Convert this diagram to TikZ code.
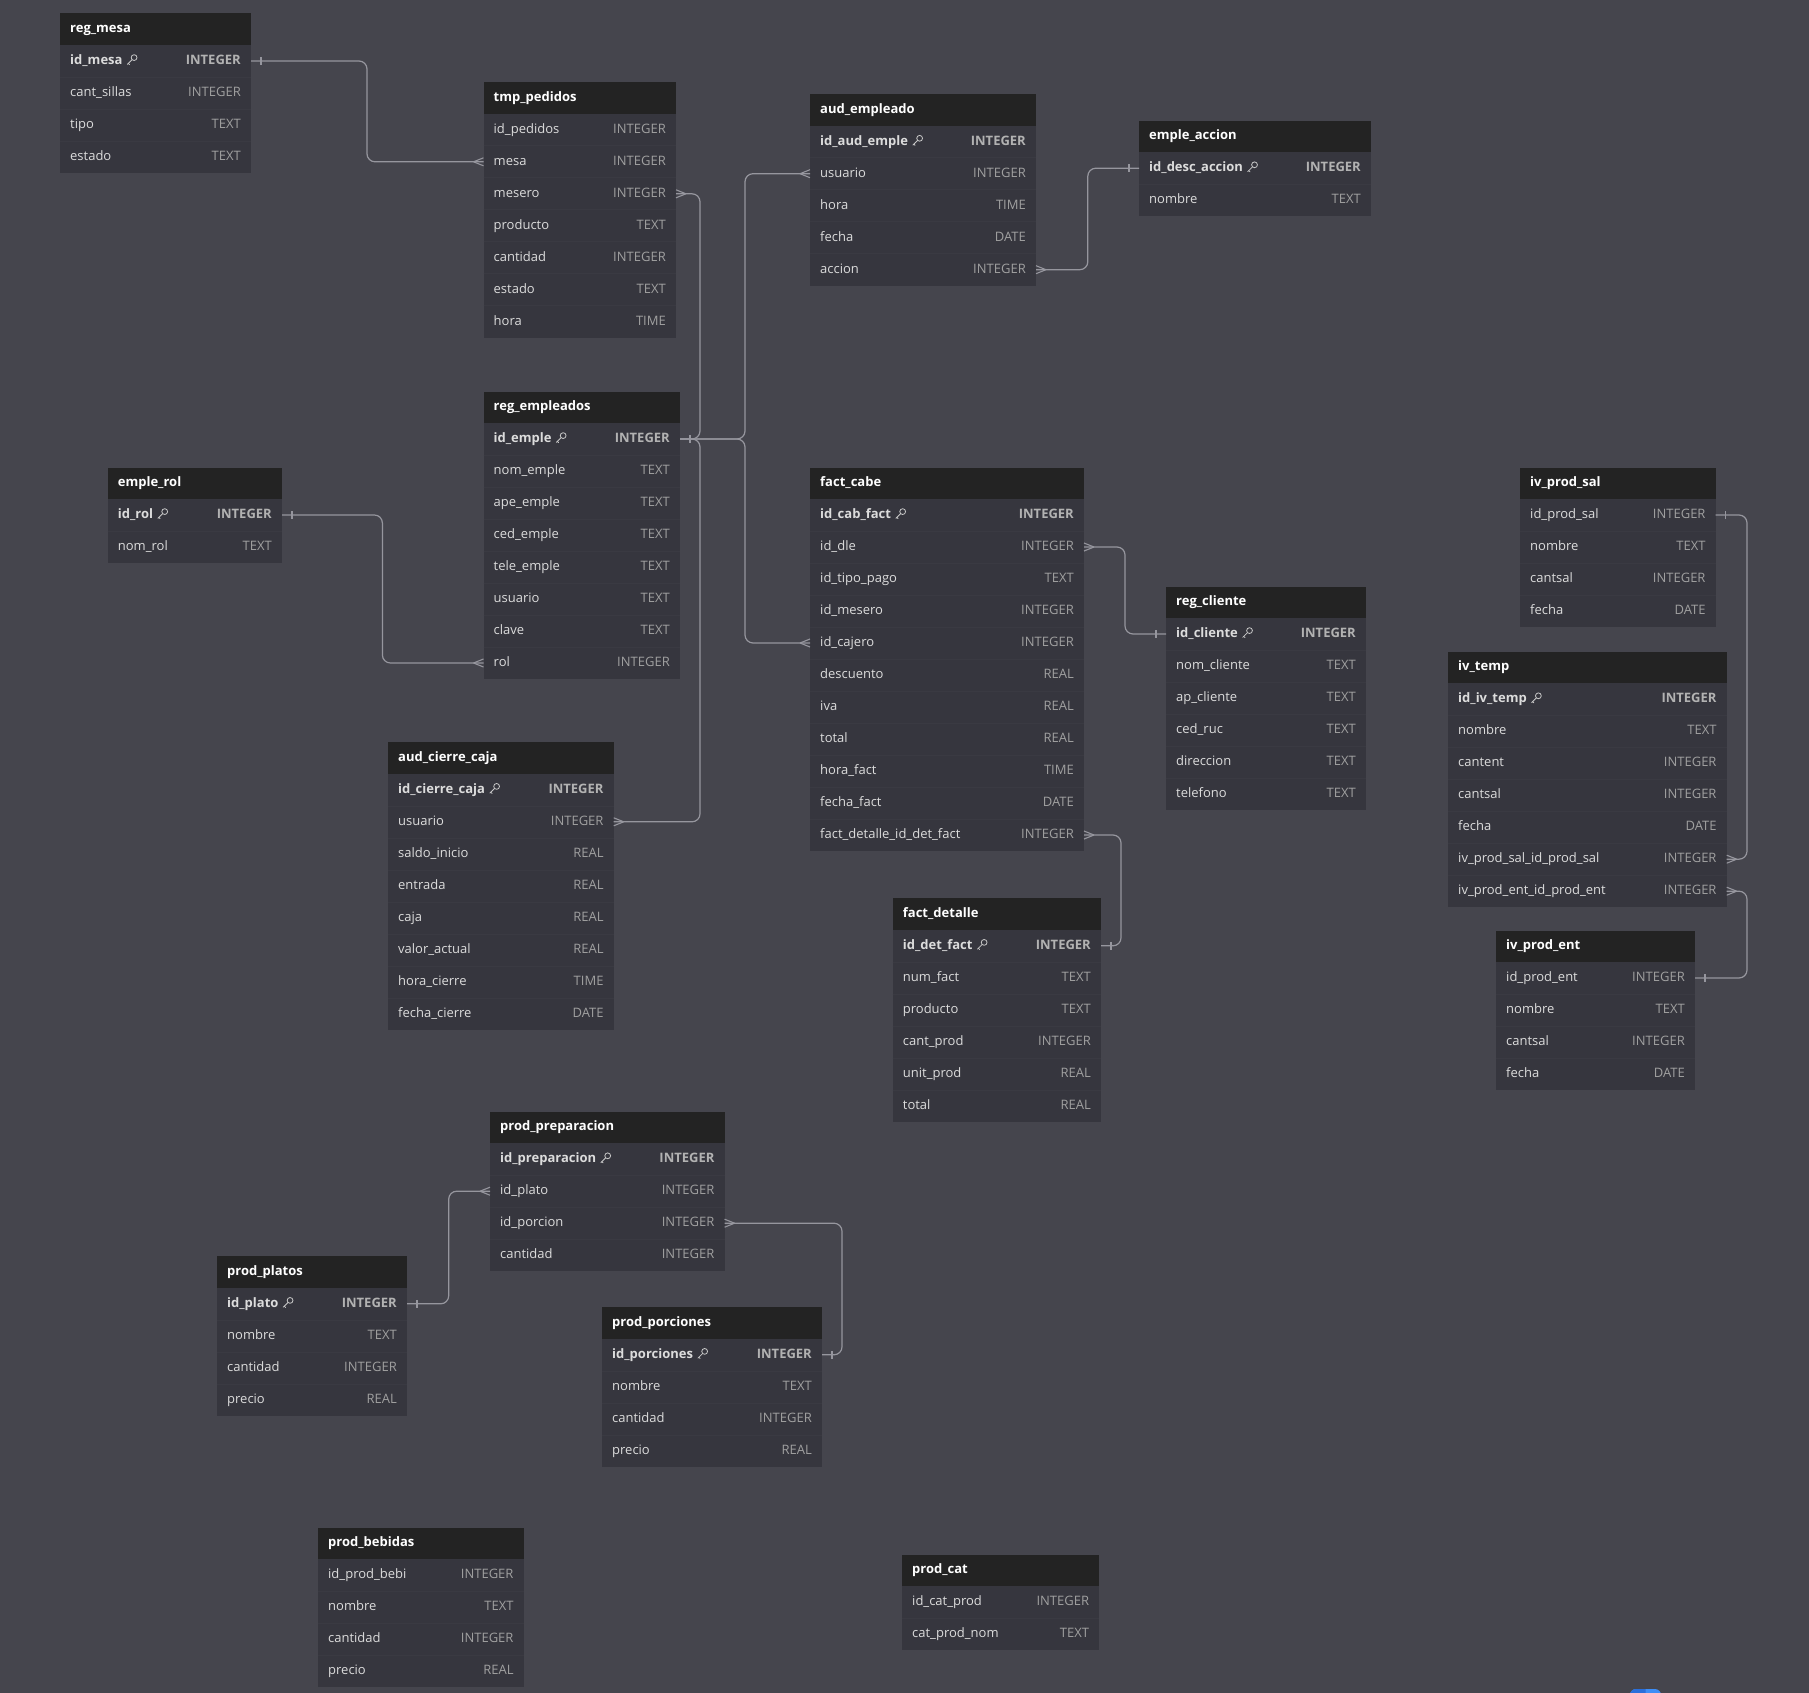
\documentclass[tikz,border=0pt]{standalone}
\usepackage{fontspec}
\setmainfont{Open Sans}
\usetikzlibrary{calc}
\definecolor{bgc}{HTML}{45454D}
\definecolor{hdrc}{HTML}{232323}
\definecolor{bodyc}{HTML}{36363E}
\definecolor{sepc}{HTML}{3A3A42}
\definecolor{fieldc}{HTML}{DCDCDC}
\definecolor{typec}{HTML}{A0A0A0}
\definecolor{pktypec}{HTML}{B2B2B2}
\definecolor{linec}{HTML}{96969E}
\definecolor{keyc}{HTML}{C8C8C8}
\definecolor{btnL}{HTML}{2A6FDB}
\definecolor{btnR}{HTML}{3D8EF7}
\tikzset{
  boxbase/.style={inner sep=0pt, outer sep=0pt, anchor=north west, draw=none},
  hdrbox/.style={boxbase, fill=hdrc, minimum height=31.5pt},
  rowbox/.style={boxbase, fill=bodyc, minimum height=32pt},
  titletext/.style={inner sep=0pt, anchor=base west, text=white, font=\fontsize{13}{15}\selectfont\bfseries},
  fieldtext/.style={inner sep=0pt, anchor=base west, text=fieldc, font=\fontsize{13}{15}\selectfont},
  pkfieldtext/.style={fieldtext, font=\fontsize{13}{15}\selectfont\bfseries},
  typetext/.style={inner sep=0pt, anchor=base east, text=typec, font=\fontsize{13}{15}\selectfont},
  pktypetext/.style={typetext, text=pktypec, font=\fontsize{13}{15}\selectfont\bfseries},
  conn/.style={draw=linec, line width=1.2pt, rounded corners=8pt},
  endmark/.style={draw=linec, line width=1.1pt},
  pkkey/.pic={
    \draw[keyc, line width=0.8pt] (7.4,-6.9) circle[radius=2.9pt];
    \draw[keyc, line width=0.8pt, line cap=round] (5.3,-4.8) -- (0.6,-0.1);
    \draw[keyc, line width=0.8pt, line cap=round] (1.6,-1.1) -- (2.9,0.2);
  }
}
\newcommand{\ertable}[6]{%
  \pgfmathsetmacro\tw{#3-#2}%
  \node[hdrbox, minimum width=\tw pt] (#1) at (#2,#4) {};
  \node[titletext] (#1-t) at ([xshift=10pt,yshift=-3.5pt]#1.west) {#5};
  \foreach [count=\i] \f/\t/\k in {#6} {%
    \pgfmathsetmacro\yy{#4+31.5+(\i-1)*32}%
    \node[rowbox, minimum width=\tw pt] (#1-\i) at (#2,\yy) {};
    \ifnum\i>1 \draw[sepc, line width=0.6pt] (#1-\i.north west) -- (#1-\i.north east);\fi
    \ifnum\k=1
      \node[pkfieldtext] (#1-\i-n) at ([xshift=10pt,yshift=-3.5pt]#1-\i.west) {\f};
      \node[pktypetext] (#1-\i-y) at ([xshift=-10pt,yshift=-3.5pt]#1-\i.east) {\t};
      \pic at ([xshift=4pt]#1-\i-n.base east) {pkkey};
    \else
      \node[fieldtext] (#1-\i-n) at ([xshift=10pt,yshift=-3.5pt]#1-\i.west) {\f};
      \node[typetext] (#1-\i-y) at ([xshift=-10pt,yshift=-3.5pt]#1-\i.east) {\t};
    \fi
  }%
}
\newcommand{\manyR}[1]{\draw[endmark] ([xshift=10pt]#1) -- ([yshift=4pt]#1) ([xshift=10pt]#1) -- ([yshift=-4pt]#1);}
\newcommand{\manyL}[1]{\draw[endmark] ([xshift=-10pt]#1) -- ([yshift=4pt]#1) ([xshift=-10pt]#1) -- ([yshift=-4pt]#1);}
\newcommand{\oneR}[1]{\draw[endmark] ([xshift=10pt,yshift=4pt]#1) -- ([xshift=10pt,yshift=-4pt]#1);}
\newcommand{\oneL}[1]{\draw[endmark] ([xshift=-10pt,yshift=4pt]#1) -- ([xshift=-10pt,yshift=-4pt]#1);}
\begin{document}
\begin{tikzpicture}[x=1pt, y=-1pt]
\useasboundingbox (0,0) rectangle (1809,1693);
\fill[bgc] (0,0) rectangle (1809,1693);

\ertable{regmesa}{60}{251}{13.5}{reg\_mesa}{id\_mesa/INTEGER/1, cant\_sillas/INTEGER/0, tipo/TEXT/0, estado/TEXT/0}
\ertable{tmppedidos}{483.5}{676}{82.3}{tmp\_pedidos}{id\_pedidos/INTEGER/0, mesa/INTEGER/0, mesero/INTEGER/0, producto/TEXT/0, cantidad/INTEGER/0, estado/TEXT/0, hora/TIME/0}
\ertable{audempleado}{810}{1036}{94.2}{aud\_empleado}{id\_aud\_emple/INTEGER/1, usuario/INTEGER/0, hora/TIME/0, fecha/DATE/0, accion/INTEGER/0}
\ertable{empleaccion}{1139}{1371}{120.7}{emple\_accion}{id\_desc\_accion/INTEGER/1, nombre/TEXT/0}
\ertable{regempleados}{483.5}{680}{391.5}{reg\_empleados}{id\_emple/INTEGER/1, nom\_emple/TEXT/0, ape\_emple/TEXT/0, ced\_emple/TEXT/0, tele\_emple/TEXT/0, usuario/TEXT/0, clave/TEXT/0, rol/INTEGER/0}
\ertable{emplerol}{107.7}{282}{467.5}{emple\_rol}{id\_rol/INTEGER/1, nom\_rol/TEXT/0}
\ertable{factcabe}{810}{1084}{467.5}{fact\_cabe}{id\_cab\_fact/INTEGER/1, id\_dle/INTEGER/0, id\_tipo\_pago/TEXT/0, id\_mesero/INTEGER/0, id\_cajero/INTEGER/0, descuento/REAL/0, iva/REAL/0, total/REAL/0, hora\_fact/TIME/0, fecha\_fact/DATE/0, fact\_detalle\_id\_det\_fact/INTEGER/0}
\ertable{regcliente}{1166}{1366}{586.5}{reg\_cliente}{id\_cliente/INTEGER/1, nom\_cliente/TEXT/0, ap\_cliente/TEXT/0, ced\_ruc/TEXT/0, direccion/TEXT/0, telefono/TEXT/0}
\ertable{ivprodsal}{1520}{1715.7}{467.5}{iv\_prod\_sal}{id\_prod\_sal/INTEGER/0, nombre/TEXT/0, cantsal/INTEGER/0, fecha/DATE/0}
\ertable{ivtemp}{1448}{1726.7}{651.7}{iv\_temp}{id\_iv\_temp/INTEGER/1, nombre/TEXT/0, cantent/INTEGER/0, cantsal/INTEGER/0, fecha/DATE/0, iv\_prod\_sal\_id\_prod\_sal/INTEGER/0, iv\_prod\_ent\_id\_prod\_ent/INTEGER/0}
\ertable{ivprodent}{1496}{1695}{930.5}{iv\_prod\_ent}{id\_prod\_ent/INTEGER/0, nombre/TEXT/0, cantsal/INTEGER/0, fecha/DATE/0}
\ertable{audcierre}{388}{613.7}{742.3}{aud\_cierre\_caja}{id\_cierre\_caja/INTEGER/1, usuario/INTEGER/0, saldo\_inicio/REAL/0, entrada/REAL/0, caja/REAL/0, valor\_actual/REAL/0, hora\_cierre/TIME/0, fecha\_cierre/DATE/0}
\ertable{factdetalle}{892.7}{1101}{898.3}{fact\_detalle}{id\_det\_fact/INTEGER/1, num\_fact/TEXT/0, producto/TEXT/0, cant\_prod/INTEGER/0, unit\_prod/REAL/0, total/REAL/0}
\ertable{prodprep}{490}{724.6}{1111.7}{prod\_preparacion}{id\_preparacion/INTEGER/1, id\_plato/INTEGER/0, id\_porcion/INTEGER/0, cantidad/INTEGER/0}
\ertable{prodplatos}{217}{407}{1256.3}{prod\_platos}{id\_plato/INTEGER/1, nombre/TEXT/0, cantidad/INTEGER/0, precio/REAL/0}
\ertable{prodporciones}{602}{822}{1307.3}{prod\_porciones}{id\_porciones/INTEGER/1, nombre/TEXT/0, cantidad/INTEGER/0, precio/REAL/0}
\ertable{prodbebidas}{318}{523.7}{1527.7}{prod\_bebidas}{id\_prod\_bebi/INTEGER/0, nombre/TEXT/0, cantidad/INTEGER/0, precio/REAL/0}
\ertable{prodcat}{902}{1099.3}{1554.7}{prod\_cat}{id\_cat\_prod/INTEGER/0, cat\_prod\_nom/TEXT/0}

% bus coordinates for reg_empleados.id_emple
\coordinate (busA) at ($(regempleados-1.east)+(20,0)$);
\coordinate (busB) at ($(regempleados-1.east)+(65,0)$);

% connectors
\draw[conn] (regmesa-1.east) -- ++(116,0) |- (tmppedidos-2.west);
\draw[conn] (tmppedidos-3.east) -| (busA) -- (regempleados-1.east);
\draw[conn] (audcierre-2.east) -| (busA) -- (regempleados-1.east);
\draw[conn] (audempleado-2.west) -| (busB) -- (regempleados-1.east);
\draw[conn] (factcabe-5.west) -| (busB) -- (regempleados-1.east);
\draw[conn] (emplerol-1.east) -- ++(100.4,0) |- (regempleados-8.west);
\draw[conn] (audempleado-5.east) -- ++(51.8,0) |- (empleaccion-1.west);
\draw[conn] (factcabe-2.east) -- ++(41,0) |- (regcliente-1.west);
\draw[conn] (factcabe-11.east) -- ++(37,0) |- (factdetalle-1.east);
\draw[conn] (ivprodsal-1.east) -- ++(31.3,0) |- (ivtemp-6.east);
\draw[conn] (ivtemp-7.east) -- ++(20.3,0) |- (ivprodent-1.east);
\draw[conn] (prodplatos-1.east) -- ++(41.7,0) |- (prodprep-2.west);
\draw[conn] (prodprep-3.east) -- ++(117.4,0) |- (prodporciones-1.east);

% end marks
\oneR{regmesa-1.east}
\manyL{tmppedidos-2.west}
\manyR{tmppedidos-3.east}
\oneR{regempleados-1.east}
\manyL{audempleado-2.west}
\manyL{factcabe-5.west}
\manyR{audcierre-2.east}
\oneR{emplerol-1.east}
\manyL{regempleados-8.west}
\manyR{audempleado-5.east}
\oneL{empleaccion-1.west}
\manyR{factcabe-2.east}
\oneL{regcliente-1.west}
\manyR{factcabe-11.east}
\oneR{factdetalle-1.east}
\oneR{ivprodsal-1.east}
\manyR{ivtemp-6.east}
\manyR{ivtemp-7.east}
\oneR{ivprodent-1.east}
\oneR{prodplatos-1.east}
\manyL{prodprep-2.west}
\manyR{prodprep-3.east}
\oneR{prodporciones-1.east}

% partially visible button at the bottom edge
\begin{scope}
  \clip (0,0) rectangle (1809,1693);
  \fill[btnR, rounded corners=6pt] (1630,1689) rectangle (1661,1712);
  \begin{scope}
    \clip (1625,1680) rectangle (1645.5,1693);
    \fill[btnL, rounded corners=6pt] (1630,1689) rectangle (1661,1712);
  \end{scope}
\end{scope}
\end{tikzpicture}
\end{document}
